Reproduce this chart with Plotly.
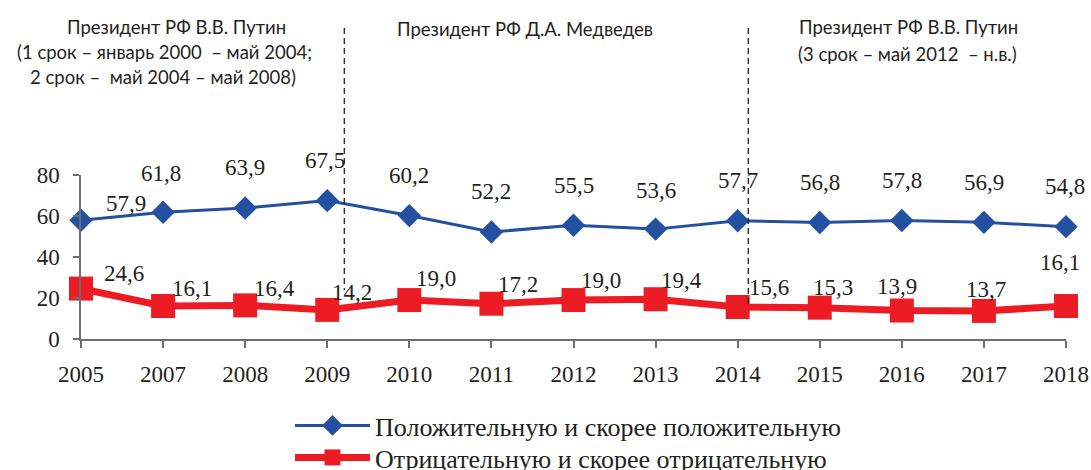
import plotly.graph_objects as go

years = ["2005", "2007", "2008", "2009", "2010", "2011", "2012", "2013",
         "2014", "2015", "2016", "2017", "2018"]
positive = [57.9, 61.8, 63.9, 67.5, 60.2, 52.2, 55.5, 53.6, 57.7, 56.8, 57.8, 56.9, 54.8]
negative = [24.6, 16.1, 16.4, 14.2, 19.0, 17.2, 19.0, 19.4, 15.6, 15.3, 13.9, 13.7, 16.1]
series_names = ["Положительную и скорее положительную",
                "Отрицательную и скорее отрицательную"]
period_texts = [
    ["Президент РФ В.В. Путин", "(1 срок – январь 2000  – май 2004;", "2 срок –  май 2004 – май 2008)"],
    ["Президент РФ Д.А. Медведев"],
    ["Президент РФ В.В. Путин", "(3 срок – май 2012  – н.в.)"],
]

# label offsets (pixels) - styling only
pos_dx = [45, -2, 0, -2, 0, 0, 0, 0, 0, 0, 0, 0, -1]
pos_dy = [17, 39, 41, 40, 40, 40, 40, 39, 40, 40, 40, 40, 40]
neg_dx = [43, 29, 29, 25, 27, 27, 27, 26, 31, 13, -5, 2, -6]
neg_dy = [15, 18, 17, 17, 22, 19, 20, 19, 20, 20, 24, 21, 44]

BLUE = "#2350a0"
RED = "#ed1c24"
TXT = "#231f20"
SERIF = "Liberation Serif, Times New Roman, serif"
SANS = "Lato, Open Sans, sans-serif"

fig = go.Figure()
fig.add_trace(go.Scatter(
    x=years, y=positive, mode="lines+markers", name=series_names[0],
    line=dict(color=BLUE, width=3),
    marker=dict(symbol="diamond", size=18, color=BLUE),
    cliponaxis=False, legend="legend",
))
fig.add_trace(go.Scatter(
    x=years, y=negative, mode="lines+markers", name=series_names[1],
    line=dict(color=RED, width=7),
    marker=dict(symbol="square", size=24, color=RED),
    cliponaxis=False, legend="legend2",
))

annotations = []
for i, v in enumerate(positive):
    annotations.append(dict(x=i, y=v, xref="x", yref="y", text=f"{v:.1f}".replace(".", ","),
                            showarrow=False, xshift=pos_dx[i], yshift=pos_dy[i],
                            font=dict(family=SERIF, size=23, color=TXT)))
for i, v in enumerate(negative):
    annotations.append(dict(x=i, y=v, xref="x", yref="y", text=f"{v:.1f}".replace(".", ","),
                            showarrow=False, xshift=neg_dx[i], yshift=neg_dy[i],
                            font=dict(family=SERIF, size=23, color=TXT)))

# plot area pixel geometry
L, R, T, B = 81, 25, 175, 131
W, H = 1091, 470
pw = W - L - R
ph = H - T - B


def px(xp):
    return (xp - L) / pw


def py(yp):
    return (H - B - yp) / ph


header_pos = [
    [(176, 27), (164, 52), (163, 77)],
    [(525, 29)],
    [(908, 27), (907, 54)],
]
for lines, poss in zip(period_texts, header_pos):
    for t, (xx, yy) in zip(lines, poss):
        annotations.append(dict(x=px(xx), y=py(yy), xref="paper", yref="paper", text=t,
                                showarrow=False, xanchor="center", yanchor="middle",
                                font=dict(family=SANS, size=18.5, color=TXT)))

shapes = [
    dict(type="line", xref="paper", yref="paper", x0=px(344.3), x1=px(344.3),
         y0=py(28), y1=py(290), line=dict(color=TXT, width=1.3, dash="6px,4px")),
    dict(type="line", xref="paper", yref="paper", x0=px(748.3), x1=px(748.3),
         y0=py(28), y1=py(307), line=dict(color=TXT, width=1.3, dash="6px,4px")),
]

legend_style = dict(xanchor="left", yanchor="top",
                    font=dict(family=SERIF, size=26, color=TXT),
                    itemwidth=75, bgcolor="rgba(0,0,0,0)")

fig.update_layout(
    width=W, height=H,
    margin=dict(l=L, r=R, t=T, b=B, pad=0, autoexpand=False),
    paper_bgcolor="white", plot_bgcolor="white",
    showlegend=True,
    legend=dict(x=px(290), y=py(402), **legend_style),
    legend2=dict(x=px(290), y=py(434), **legend_style),
    annotations=annotations,
    shapes=shapes,
    xaxis=dict(type="category", range=[0, 12], showgrid=False, zeroline=False,
               showline=True, linecolor="#6d6e71", linewidth=1.5,
               ticks="outside", ticklen=7, tickcolor="#6d6e71", tickwidth=1.5,
               tickfont=dict(family=SERIF, size=23, color=TXT),
               ticklabelstandoff=7),
    yaxis=dict(range=[0, 80], tickvals=[0, 20, 40, 60, 80], showgrid=False, zeroline=False,
               showline=True, linecolor="#6d6e71", linewidth=1.5,
               ticks="outside", ticklen=6, tickcolor="#6d6e71", tickwidth=1.5,
               tickfont=dict(family=SERIF, size=23, color=TXT),
               ticklabelstandoff=9),
)

fig.write_html("out.html", config={"displayModeBar": False},
               post_script="document.body.style.margin='0';")
